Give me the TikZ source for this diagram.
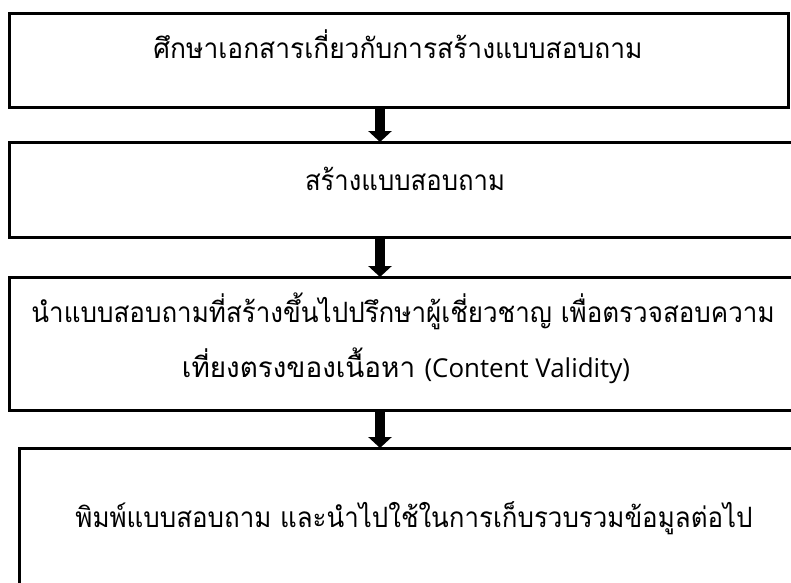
\documentclass[tikz,border=0pt]{standalone}
\usepackage{fontspec}
\usepackage{graphicx}
\newfontfamily\thaifont[Script=Thai]{Loma}
\newfontfamily\latinfont{Open Sans}
\newcommand\fitw[2]{\resizebox{#1}{\height}{#2}}
\usetikzlibrary{arrows.meta}
\begin{document}
\begin{tikzpicture}[x=1pt,y=-1pt,
  boxstyle/.style={draw=black,line width=2.6pt,inner sep=0pt,anchor=north west},
  txt/.style={font=\thaifont\fontsize{28}{28}\selectfont,anchor=base,inner sep=0pt},
  blockarrow/.style={line width=10pt,-{Triangle[width=23pt,length=11pt]},shorten >=-1pt}]
\useasboundingbox (0,0) rectangle (791,582);
\clip (0,0) rectangle (791,582);
\node[boxstyle,minimum width=779pt,minimum height=94pt] (b1) at (8,12) {};
\node[boxstyle,minimum width=800pt,minimum height=95pt] (b2) at (8,141) {};
\node[boxstyle,minimum width=800pt,minimum height=133pt] (b3) at (8,276) {};
\node[boxstyle,minimum width=800pt,minimum height=160pt] (b4) at (18,447) {};
\node[txt] (t1) at (398,58) {\fitw{489pt}{ศึกษาเอกสารเกี่ยวกับการสร้างแบบสอบถาม}};
\node[txt] (t2) at (405,190) {\fitw{200pt}{สร้างแบบสอบถาม}};
\node[txt] (t3a) at (403,322) {\fitw{743pt}{นำแบบสอบถามที่สร้างขึ้นไปปรึกษาผู้เชี่ยวชาญ เพื่อตรวจสอบความ}};
\node[txt] (t3b) at (406,377) {\fitw{448pt}{เที่ยงตรงของเนื้อหา {\latinfont\fontsize{26}{26}\selectfont (Content Validity)}}};
\node[txt] (t4) at (414,527) {\fitw{677pt}{พิมพ์แบบสอบถาม และนำไปใช้ในการเก็บรวบรวมข้อมูลต่อไป}};
\coordinate (ax) at (380,0);
\draw[blockarrow] (b1.south -| ax) -- (b2.north -| ax);
\draw[blockarrow] (b2.south -| ax) -- (b3.north -| ax);
\draw[blockarrow] (b3.south -| ax) -- (b4.north -| ax);
\end{tikzpicture}
\end{document}
